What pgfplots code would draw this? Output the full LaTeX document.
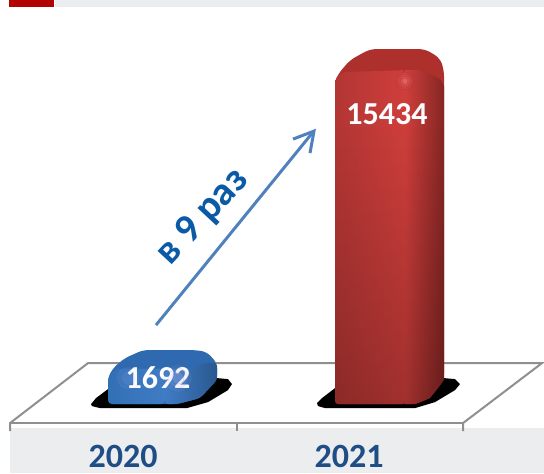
\documentclass[border=0pt]{standalone}
\usepackage{pgfplots}
\pgfplotsset{compat=1.18}
\usepackage{fontspec}
\setmainfont{Carlito}
\usetikzlibrary{fadings}
\definecolor{band}{HTML}{ECEDEF}
\definecolor{flag}{HTML}{B30000}
\definecolor{floorline}{HTML}{8F8F8F}
\definecolor{arrowc}{HTML}{4F81BD}
\definecolor{txtb}{HTML}{0B5AA6}
\definecolor{yearc}{HTML}{1F4E86}
\definecolor{rcap}{HTML}{AE302C}
\definecolor{rl}{HTML}{B23634}
\definecolor{rm}{HTML}{CE3E3B}
\definecolor{rr}{HTML}{842624}
\definecolor{bcap}{HTML}{2F69AF}
\definecolor{bl}{HTML}{3270B6}
\definecolor{bm}{HTML}{3F7CC4}
\definecolor{br}{HTML}{2A5890}
\begin{document}
\begin{tikzpicture}
% decoration axis, in picture pixels
\begin{axis}[at={(0,0)},anchor=south west,scale only axis,width=544pt,height=473pt,
  xmin=0,xmax=544,ymin=0,ymax=473,y dir=reverse,hide axis,clip=false]
\addplot[draw=none,fill=band] coordinates {(55,0)(544,0)(544,7)(55,7)} --cycle;
\addplot[draw=none,fill=flag] coordinates {(9,0)(54,0)(54,7)(9,7)} --cycle;
\addplot[draw=none,fill=band] coordinates {(10,428)(544,428)(544,473)(10,473)} --cycle;
\addplot[floorline,line width=2pt] coordinates {(10,431)(10,423)(88,363)(542,363)(463,423)(463,431)};
\addplot[floorline,line width=2pt] coordinates {(10,423)(463,423)};
\addplot[floorline,line width=1.5pt] coordinates {(237,423)(237,431)};
% shadows
\addplot[draw=none,fill=black] coordinates {(91,404)(96,398)(108,389)(217,378)(228,379)(232,384)(228,390)(208,402)(187,408)(100,408)(92,406)} --cycle;
\addplot[draw=none,fill=black] coordinates {(317,403)(322,398)(335,388)(444,378)(455,379)(460,384)(455,390)(435,402)(415,408)(325,408)(318,406)} --cycle;
\end{axis}
% data axis: bars
\begin{axis}[at={(0,0)},anchor=south west,scale only axis,width=544pt,height=473pt,
  xmin=0,xmax=544,ymin=-3152,ymax=18772,clip=false,
  axis line style={draw=none},major tick length=0pt,ytick=\empty,
  xtick={123,349},xticklabels={2020,2021},
  xticklabel style={font=\fontsize{34}{34}\selectfont\bfseries,text=yearc,inner sep=0pt,yshift=28pt}]
% red bar
\addplot[draw=none,fill=rcap,rounded corners=6pt] coordinates {(335,46)(415,46)(430,324)(444,1159)(444,15527)(440,16083)(425,16501)(370,16501)(350,15990)(338,15340)(335,14971)} --cycle;
\addplot[draw=none,left color=rl,right color=rm,rounded corners=3pt] coordinates {(335,46)(405,46)(405,15527)(345,15434)(337,15249)(335,14971)} --cycle;
\addplot[draw=none,left color=rm,right color=rr] coordinates {(405,46)(415,46)(430,324)(444,1159)(444,14800)(440,15100)(430,15350)(418,15527)(405,15527)} --cycle;
\addplot[draw=none,fill=black,path fading=north,fill opacity=.22] coordinates {(335,46)(415,46)(430,324)(444,1159)(444,13000)(335,13000)} --cycle;
\addplot[only marks,mark=*,mark size=9pt,mark options={draw=none,fill=red!60!white,opacity=.12}] coordinates {(405,15017)};
\addplot[only marks,mark=*,mark size=7pt,mark options={draw=none,fill=red!60!white,opacity=.15}] coordinates {(405,15017)};
\addplot[only marks,mark=*,mark size=5pt,mark options={draw=none,fill=red!50!white,opacity=.18}] coordinates {(405,15017)};
\addplot[only marks,mark=*,mark size=3pt,mark options={draw=none,fill=red!40!white,opacity=.22}] coordinates {(405,15017)};
% blue bar
\addplot[draw=none,fill=bcap,rounded corners=5pt] coordinates {(108,46)(177,46)(200,324)(217,1159)(217,1947)(207,2457)(196,2549)(143,2549)(125,2178)(114,1761)(108,1300)} --cycle;
\addplot[draw=none,left color=bl,right color=bm,rounded corners=4pt] coordinates {(108,46)(165,46)(165,1692)(116,1692)(108,1300)} --cycle;
\addplot[draw=none,left color=bm,right color=br,rounded corners=3pt] coordinates {(165,46)(177,46)(200,324)(217,1159)(217,1947)(205,1947)(190,1692)(165,1692)} --cycle;
\addplot[only marks,mark=*,mark size=14pt,mark options={draw=none,fill=blue!25!white,opacity=.07}] coordinates {(178,1251)};
\addplot[only marks,mark=*,mark size=10pt,mark options={draw=none,fill=blue!25!white,opacity=.1}] coordinates {(178,1251)};
\addplot[only marks,mark=*,mark size=6pt,mark options={draw=none,fill=blue!20!white,opacity=.14}] coordinates {(178,1251)};
\addplot[only marks,mark=*,mark size=12pt,mark options={draw=none,fill=blue!25!white,opacity=.06}] coordinates {(128,1251)};
\addplot[only marks,mark=*,mark size=7pt,mark options={draw=none,fill=blue!25!white,opacity=.08}] coordinates {(128,1251)};
\node[text=white,font=\fontsize{32}{32}\selectfont\bfseries] at (axis cs:158,1251) {1692};
\node[text=white,font=\fontsize{32}{32}\selectfont\bfseries] at (axis cs:387,13480) {15434};
\end{axis}
% arrow, in picture pixels
\begin{axis}[at={(0,0)},anchor=south west,scale only axis,width=544pt,height=473pt,
  xmin=0,xmax=544,ymin=0,ymax=473,y dir=reverse,hide axis,clip=false]
\addplot[arrowc,line width=3pt] coordinates {(156,325)(313,132)};
\addplot[arrowc,line width=3pt] coordinates {(293,139)(314,131)(310,153)};
\node[text=txtb,font=\fontsize{40}{40}\selectfont\bfseries,rotate=47] at (axis cs:203,217) {в 9 раз};
\end{axis}
\end{tikzpicture}
\end{document}
